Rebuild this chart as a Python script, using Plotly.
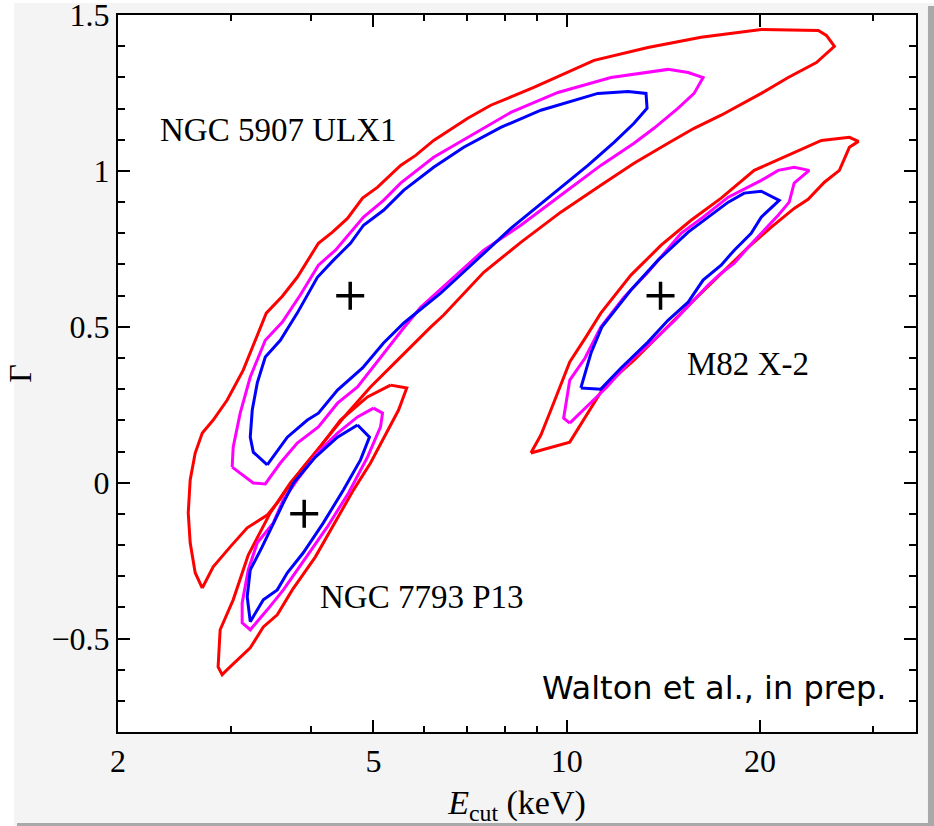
import numpy as np
import plotly.graph_objects as go

# ---------------- data (E_cut in keV, Gamma) ----------------
ulx1_red_E = [2.706, 2.638, 2.591, 2.573, 2.591, 2.638, 2.706, 2.814, 2.959, 3.134, 3.404, 3.606, 3.804,
              4.104, 4.316, 4.555, 4.808, 5.075, 5.511, 5.817, 6.205, 7.012, 7.615, 8.887, 11.03, 13.38,
              16.19, 20.09, 24.66, 25.38, 26.12, 24.49, 22.13, 20.09, 17.40, 15.79, 14.38, 12.73, 11.30,
              9.79, 8.482, 7.426, 6.432, 6.138, 5.450, 4.947, 4.553, 4.237, 3.887, 3.753, 3.541, 3.416,
              3.179, 2.991, 2.814, 2.706]
ulx1_red_G = [-0.338, -0.289, -0.193, -0.097, 0.009, 0.095, 0.159, 0.201, 0.265, 0.361, 0.544, 0.598, 0.659,
              0.768, 0.804, 0.848, 0.913, 0.948, 1.018, 1.050, 1.098, 1.169, 1.211, 1.268, 1.355, 1.396,
              1.429, 1.454, 1.451, 1.435, 1.400, 1.348, 1.300, 1.249, 1.179, 1.137, 1.089, 1.025, 0.954,
              0.868, 0.771, 0.675, 0.538, 0.499, 0.393, 0.307, 0.223, 0.146, 0.050, 0.009, -0.065, -0.104,
              -0.145, -0.206, -0.270, -0.338]

ulx1_mag_E = [3.012, 3.023, 3.100, 3.214, 3.392, 3.606, 3.846, 4.104, 4.363, 4.586, 4.825, 5.184, 5.511,
              6.205, 7.012, 8.183, 9.69, 11.72, 14.38, 15.46, 16.31, 15.79, 14.90, 13.67, 12.73, 11.30,
              9.79, 8.482, 7.426, 6.596, 5.922, 5.571, 5.128, 4.722, 4.395, 4.104, 3.804, 3.580, 3.392,
              3.249, 3.012]
ulx1_mag_G = [0.050, 0.114, 0.223, 0.339, 0.457, 0.515, 0.602, 0.698, 0.746, 0.800, 0.852, 0.906, 0.961,
              1.044, 1.108, 1.188, 1.252, 1.300, 1.326, 1.316, 1.300, 1.249, 1.201, 1.137, 1.089, 1.018,
              0.922, 0.826, 0.746, 0.650, 0.563, 0.496, 0.403, 0.307, 0.255, 0.179, 0.127, 0.063, -0.004,
              -0.001, 0.050]

ulx1_blue_E = [3.416, 3.249, 3.214, 3.237, 3.296, 3.392, 3.580, 3.804, 4.089, 4.332, 4.604, 4.825, 5.184,
               5.571, 6.205, 6.912, 7.894, 9.115, 11.18, 12.46, 13.29, 13.34, 12.73, 11.85, 10.79, 9.448,
               8.183, 7.012, 6.363, 5.775, 5.571, 5.184, 4.808, 4.395, 4.104, 3.945, 3.671, 3.416]
ulx1_blue_G = [0.057, 0.098, 0.146, 0.233, 0.320, 0.403, 0.457, 0.544, 0.659, 0.714, 0.768, 0.826, 0.874,
               0.938, 1.012, 1.076, 1.140, 1.195, 1.249, 1.255, 1.249, 1.201, 1.153, 1.092, 1.018, 0.922,
               0.816, 0.688, 0.608, 0.538, 0.512, 0.448, 0.368, 0.297, 0.223, 0.201, 0.146, 0.057]

m82_red_E = [8.793, 9.115, 9.448, 10.11, 10.71, 11.30, 12.59, 14.03, 15.62, 17.40, 19.59, 22.13, 24.93,
             27.56, 28.47, 27.56, 26.59, 25.20, 23.77, 22.61, 20.83, 19.17, 17.40, 15.79, 14.18, 12.73,
             11.43, 10.71, 10.11, 8.793]
m82_red_G = [0.095, 0.153, 0.233, 0.387, 0.467, 0.544, 0.666, 0.762, 0.842, 0.913, 1.002, 1.050, 1.098,
             1.108, 1.095, 1.076, 1.002, 0.964, 0.909, 0.880, 0.820, 0.755, 0.672, 0.586, 0.489, 0.393,
             0.307, 0.211, 0.130, 0.095]

m82_mag_E = [10.11, 9.89, 10.11, 10.68, 11.30, 12.28, 13.38, 15.07, 16.31, 17.85, 20.09, 21.35, 22.61,
             23.86, 22.61, 22.21, 21.35, 20.09, 19.17, 18.24, 17.40, 16.61, 15.79, 14.74, 13.67, 12.59,
             11.55, 10.71, 10.11]
m82_mag_G = [0.191, 0.207, 0.329, 0.400, 0.499, 0.595, 0.675, 0.800, 0.852, 0.916, 0.970, 1.002, 1.012,
             1.002, 0.961, 0.900, 0.858, 0.800, 0.755, 0.704, 0.672, 0.634, 0.586, 0.521, 0.457, 0.393,
             0.307, 0.243, 0.191]

m82_blue_E = [10.52, 11.30, 12.15, 13.38, 14.38, 15.46, 16.31, 17.40, 18.24, 19.38, 20.09, 21.43, 20.09,
              18.90, 17.85, 15.46, 13.88, 12.59, 11.34, 10.91, 10.52]
m82_blue_G = [0.304, 0.300, 0.368, 0.451, 0.521, 0.579, 0.650, 0.698, 0.746, 0.800, 0.852, 0.906, 0.935,
              0.929, 0.900, 0.804, 0.714, 0.618, 0.499, 0.416, 0.304]

p13_red_E = [5.316, 5.634, 5.471, 5.221, 4.947, 4.655, 4.348, 4.060, 3.737, 3.541, 3.368, 3.214, 2.959,
             2.906, 2.864, 2.885, 3.023, 3.191, 3.453, 3.711, 4.060, 4.442, 4.894, 5.316]
p13_red_G = [0.313, 0.304, 0.233, 0.153, 0.063, -0.023, -0.129, -0.238, -0.344, -0.424, -0.463, -0.530,
             -0.600, -0.616, -0.591, -0.472, -0.376, -0.232, -0.097, -0.001, 0.095, 0.201, 0.275, 0.313]

p13_mag_E = [5.001, 5.165, 5.128, 4.894, 4.572, 4.237, 3.931, 3.619, 3.416, 3.214, 3.122, 3.122, 3.191,
             3.296, 3.491, 3.619, 3.804, 4.089, 4.395, 4.722, 5.001]
p13_mag_G = [0.239, 0.223, 0.179, 0.082, -0.033, -0.142, -0.238, -0.344, -0.408, -0.472, -0.450, -0.386,
             -0.280, -0.193, -0.129, -0.055, 0.009, 0.095, 0.159, 0.211, 0.239]

p13_blue_E = [4.722, 4.929, 4.773, 4.491, 4.177, 3.887, 3.671, 3.541, 3.368, 3.214, 3.179, 3.214, 3.354,
              3.491, 3.619, 3.753, 4.060, 4.395, 4.722]
p13_blue_G = [0.185, 0.146, 0.073, -0.023, -0.129, -0.225, -0.289, -0.344, -0.376, -0.446, -0.366, -0.280,
              -0.206, -0.129, -0.065, -0.001, 0.082, 0.146, 0.185]

best_E = [4.6, 14.0, 3.9]
best_G = [0.6, 0.6, -0.1]

source_names = ["NGC 5907 ULX1", "M82 X-2", "NGC 7793 P13"]
label_E = [2.31, 15.3, 4.10]
label_G = [1.13, 0.38, -0.367]

credit_text = "Walton et al., in prep."
credit_E = 31.6
credit_G = -0.658

x_tickvals = [2, 5, 10, 20]
x_ticktext = ["2", "5", "10", "20"]
x_minorvals = [3, 4, 6, 7, 8, 9, 30]
y_tickvals = [-0.5, 0, 0.5, 1, 1.5]
y_ticktext = ["\u22120.5", "0", "0.5", "1", "1.5"]

RED, MAG, BLUE = "#ff0000", "#ff00ff", "#0000ff"
SERIF = "Liberation Serif"

fig = go.Figure()

contours = [
    (ulx1_red_E, ulx1_red_G, RED), (p13_red_E, p13_red_G, RED), (m82_red_E, m82_red_G, RED),
    (ulx1_mag_E, ulx1_mag_G, MAG), (p13_mag_E, p13_mag_G, MAG), (m82_mag_E, m82_mag_G, MAG),
    (ulx1_blue_E, ulx1_blue_G, BLUE), (p13_blue_E, p13_blue_G, BLUE), (m82_blue_E, m82_blue_G, BLUE),
]
for xs, ys, col in contours:
    fig.add_trace(go.Scatter(x=xs, y=ys, mode="lines", line=dict(color=col, width=3),
                             showlegend=False, hoverinfo="skip"))

fig.add_trace(go.Scatter(x=best_E, y=best_G, mode="markers",
                         marker=dict(symbol="cross-thin", size=20, line=dict(color="black", width=3.5)),
                         showlegend=False, hoverinfo="skip"))

for name, xe, yg in zip(source_names, label_E, label_G):
    fig.add_annotation(x=np.log10(xe), y=yg, xref="x", yref="y", text=name, showarrow=False,
                       xanchor="left", yanchor="middle", font=dict(family=SERIF, size=33, color="black"))

fig.add_annotation(x=np.log10(credit_E), y=credit_G, xref="x", yref="y", text=credit_text,
                   showarrow=False, xanchor="right", yanchor="middle",
                   font=dict(family="DejaVu Sans", size=32, color="black"))

axis_common = dict(showline=True, linecolor="black", linewidth=2, mirror="allticks",
                   ticks="inside", ticklen=12, tickwidth=2, tickcolor="black",
                   showgrid=False, zeroline=False, ticklabeloverflow="allow",
                   tickfont=dict(family=SERIF, size=32, color="black"))

fig.update_xaxes(type="log", range=[np.log10(2), np.log10(35)],
                 tickmode="array", tickvals=x_tickvals, ticktext=x_ticktext,
                 minor=dict(tickmode="array", tickvals=x_minorvals, ticks="inside", ticklen=6,
                            tickwidth=2, tickcolor="black", showgrid=False),
                 title=dict(text="<i>E</i><sub>cut</sub> (keV)",
                            font=dict(family=SERIF, size=34, color="black"), standoff=27),
                 ticklabelstandoff=0,
                 **axis_common)
fig.update_yaxes(range=[-0.8, 1.5005], tickmode="array", tickvals=y_tickvals, ticktext=y_ticktext,
                 minor=dict(dtick=0.1, ticks="inside", ticklen=7, tickwidth=2, tickcolor="black",
                            showgrid=False),
                 title=dict(text="\u0393", font=dict(family=SERIF, size=32, color="black"), standoff=10),
                 ticklabelstandoff=0,
                 **axis_common)

shapes = [
    dict(type="rect", xref="paper", yref="paper", x0=-0.1479, x1=-0.1303, y0=-0.1311, y1=1.0209,
         fillcolor="white", line=dict(width=0), layer="above"),
    dict(type="rect", xref="paper", yref="paper", x0=-0.1479, x1=1.0226, y0=1.0167, y1=1.0209,
         fillcolor="white", line=dict(width=0), layer="above"),
    dict(type="rect", xref="paper", yref="paper", x0=1.0150, x1=1.0226, y0=-0.1311, y1=1.0126,
         fillcolor="#a9a9a9", line=dict(width=0), layer="above"),
    dict(type="rect", xref="paper", yref="paper", x0=-0.1266, x1=1.0226, y0=-0.1311, y1=-0.1269,
         fillcolor="#a9a9a9", line=dict(width=0), layer="above"),
]

fig.update_layout(width=934, height=826, margin=dict(l=118, r=18, t=15, b=94, autoexpand=False),
                  paper_bgcolor="#f4f4f4", plot_bgcolor="white", shapes=shapes,
                  showlegend=False)

fig.write_html("out.html", config={"displayModeBar": False},
               post_script="document.body.style.margin='0';document.body.style.padding='0';")
